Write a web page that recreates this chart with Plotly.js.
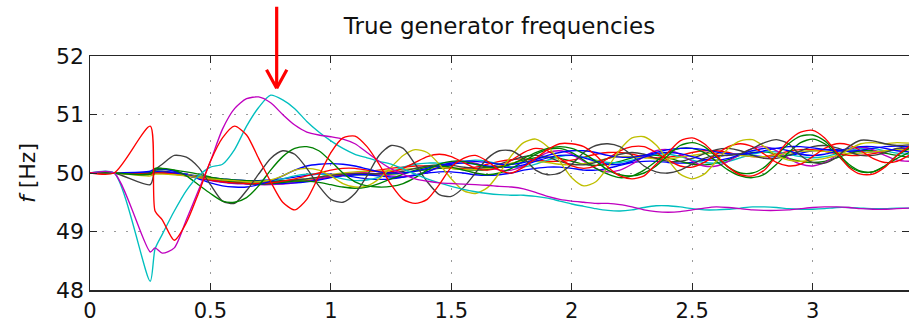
<!DOCTYPE html>
<html>
<head>
<meta charset="utf-8">
<script src="https://cdn.plot.ly/plotly-3.0.1.min.js"></script>
<style>html,body{margin:0;padding:0;background:#fff;}#chart{width:909px;height:324px;}</style>
</head>
<body>
<div id="chart"></div>
<script>
// time samples [s]
const T = [0, 0.1, 0.25, 0.27, 0.3,
  0.35, 0.4, 0.45, 0.5, 0.55, 0.6, 0.65, 0.7, 0.75, 0.8,
  0.85, 0.9, 0.95, 1.0, 1.05, 1.1, 1.15, 1.2, 1.25, 1.3,
  1.35, 1.4, 1.45, 1.5, 1.55, 1.6, 1.65, 1.7, 1.75, 1.8,
  1.85, 1.9, 1.95, 2.0, 2.05, 2.1, 2.15, 2.2, 2.25, 2.3,
  2.35, 2.4, 2.45, 2.5, 2.55, 2.6, 2.65, 2.7, 2.75, 2.8,
  2.85, 2.9, 2.95, 3.0, 3.05, 3.1, 3.15, 3.2, 3.25, 3.3,
  3.35, 3.4];

// generator frequencies [Hz]
const red1 = [50, 50, 50.8, 49.35, 49.2,
  48.85, 49.15, 49.65, 50.2, 50.6, 50.8, 50.65, 50.25, 49.85, 49.5,
  49.37, 49.55, 49.95, 50.35, 50.6, 50.63, 50.45, 50.15, 49.8, 49.55,
  49.48, 49.55, 49.8, 50.1, 50.25, 50.3, 50.2, 50.05, 50.0, 50.1,
  50.25, 50.4, 50.5, 50.5, 50.45, 50.3, 50.1, 49.95, 49.9, 49.95,
  50.15, 50.35, 50.55, 50.6, 50.5, 50.3, 50.1, 49.97, 49.95, 50.05,
  50.3, 50.55, 50.7, 50.73, 50.6, 50.35, 50.1, 49.98, 49.98, 50.1,
  50.3, 50.45];
const red2 = [50, 50, 49.98, 50.0, 50.0,
  49.98, 49.95, 49.92, 49.88, 49.85, 49.83, 49.82, 49.82, 49.83, 49.86,
  49.9, 49.95, 50.0, 50.05, 50.08, 50.08, 50.05, 50.02, 50.02, 50.08,
  50.18, 50.28, 50.32, 50.28, 50.18, 50.08, 50.05, 50.1, 50.22, 50.35,
  50.42, 50.38, 50.25, 50.12, 50.08, 50.12, 50.25, 50.38, 50.45, 50.45,
  50.35, 50.22, 50.12, 50.1, 50.18, 50.32, 50.45, 50.5, 50.45, 50.32,
  50.18, 50.12, 50.15, 50.28, 50.42, 50.5, 50.48, 50.38, 50.25, 50.18,
  50.2, 50.3];
const red3 = [50, 50, 50.0, 50.02, 50.02,
  50.0, 49.97, 49.93, 49.9, 49.87, 49.85, 49.84, 49.83, 49.83, 49.84,
  49.85, 49.87, 49.9, 49.93, 49.96, 49.99, 50.02, 50.05, 50.08, 50.1,
  50.12, 50.12, 50.1, 50.08, 50.08, 50.1, 50.15, 50.2, 50.23, 50.24,
  50.22, 50.2, 50.2, 50.22, 50.27, 50.32, 50.35, 50.35, 50.32, 50.28,
  50.26, 50.27, 50.3, 50.35, 50.38, 50.38, 50.35, 50.3, 50.28, 50.28,
  50.32, 50.37, 50.4, 50.4, 50.37, 50.33, 50.3, 50.3, 50.33, 50.37,
  50.4, 50.4];
const green1 = [50, 50, 49.98, 50.08, 50.08,
  50.05, 49.95, 49.8, 49.65, 49.52, 49.5, 49.58, 49.78, 50.05, 50.28,
  50.42, 50.45, 50.38, 50.2, 50.0, 49.85, 49.78, 49.76, 49.77, 49.82,
  49.92, 50.05, 50.15, 50.2, 50.2, 50.15, 50.1, 50.1, 50.15, 50.25,
  50.35, 50.42, 50.45, 50.42, 50.33, 50.2, 50.05, 49.97, 49.95, 50.0,
  50.12, 50.3, 50.47, 50.52, 50.45, 50.28, 50.1, 50.0, 50.0, 50.1,
  50.3, 50.5, 50.63, 50.65, 50.55, 50.35, 50.15, 50.03, 50.02, 50.12,
  50.3, 50.42];
const green2 = [50, 50, 50.0, 50.05, 50.06,
  50.05, 50.02, 49.98, 49.93, 49.88, 49.84, 49.82, 49.81, 49.82, 49.84,
  49.86, 49.86, 49.84, 49.8, 49.76, 49.74, 49.76, 49.82, 49.9, 49.98,
  50.05, 50.1, 50.12, 50.1, 50.05, 50.0, 49.97, 50.0, 50.08, 50.2,
  50.32, 50.4, 50.42, 50.35, 50.22, 50.08, 49.98, 49.92, 49.95, 50.05,
  50.2, 50.35, 50.42, 50.42, 50.35, 50.2, 50.05, 49.95, 49.92, 49.98,
  50.15, 50.35, 50.52, 50.58, 50.5, 50.32, 50.12, 50.02, 50.02, 50.12,
  50.25, 50.35];
const green3 = [50, 50, 49.99, 50.02, 50.02,
  50.0, 49.97, 49.94, 49.92, 49.9, 49.88, 49.87, 49.86, 49.86, 49.87,
  49.88, 49.9, 49.92, 49.94, 49.96, 49.97, 49.97, 49.97, 49.98, 50.0,
  50.03, 50.06, 50.08, 50.08, 50.06, 50.05, 50.06, 50.1, 50.16, 50.22,
  50.26, 50.27, 50.25, 50.2, 50.15, 50.13, 50.15, 50.2, 50.26, 50.3,
  50.3, 50.26, 50.2, 50.15, 50.14, 50.17, 50.23, 50.3, 50.35, 50.36,
  50.32, 50.25, 50.2, 50.18, 50.2, 50.26, 50.33, 50.38, 50.38, 50.34,
  50.3, 50.27];
const blue1 = [50, 50, 50.03, 50.07, 50.07,
  50.03, 49.97, 49.9, 49.83, 49.78, 49.76, 49.76, 49.8, 49.86, 49.95,
  50.05, 50.12, 50.15, 50.16, 50.15, 50.12, 50.07, 50.02, 50.0, 50.0,
  50.03, 50.08, 50.13, 50.17, 50.2, 50.2, 50.18, 50.15, 50.15, 50.18,
  50.23, 50.3, 50.35, 50.38, 50.38, 50.35, 50.3, 50.27, 50.27, 50.3,
  50.35, 50.4, 50.42, 50.42, 50.4, 50.36, 50.33, 50.32, 50.34, 50.38,
  50.42, 50.45, 50.45, 50.43, 50.4, 50.38, 50.37, 50.39, 50.42, 50.45,
  50.46, 50.45];
const blue2 = [50, 50, 50.0, 50.02, 50.02,
  50.0, 49.96, 49.92, 49.88, 49.85, 49.83, 49.82, 49.82, 49.82, 49.82,
  49.83, 49.85, 49.88, 49.92, 49.95, 49.97, 49.97, 49.95, 49.93, 49.93,
  49.96, 50.02, 50.1, 50.15, 50.17, 50.15, 50.12, 50.1, 50.1, 50.14,
  50.2, 50.26, 50.3, 50.3, 50.26, 50.2, 50.15, 50.15, 50.2, 50.27,
  50.33, 50.35, 50.33, 50.28, 50.23, 50.22, 50.25, 50.32, 50.38, 50.42,
  50.42, 50.38, 50.32, 50.3, 50.32, 50.37, 50.42, 50.45, 50.45, 50.42,
  50.38, 50.36];
const blue3 = [50, 50, 50.0, 50.03, 50.03,
  50.01, 49.98, 49.95, 49.92, 49.9, 49.88, 49.87, 49.87, 49.88, 49.9,
  49.93, 49.96, 49.98, 49.98, 49.96, 49.93, 49.9, 49.89, 49.9, 49.93,
  49.97, 50.0, 50.02, 50.02, 50.0, 49.97, 49.96, 49.97, 50.0, 50.05,
  50.08, 50.1, 50.1, 50.08, 50.05, 50.05, 50.08, 50.13, 50.18, 50.2,
  50.2, 50.18, 50.17, 50.18, 50.22, 50.27, 50.31, 50.32, 50.3, 50.28,
  50.28, 50.3, 50.34, 50.38, 50.4, 50.4, 50.38, 50.36, 50.36, 50.38,
  50.41, 50.43];
const cyan1 = [50, 50, 48.15, 48.7, 48.95,
  49.35, 49.7, 49.95, 50.1, 50.15, 50.4, 50.8, 51.12, 51.33, 51.25,
  51.1, 50.88, 50.7, 50.55, 50.42, 50.32, 50.26, 50.2, 50.15, 50.07,
  49.98, 49.9, 49.83, 49.77, 49.72, 49.68, 49.65, 49.63, 49.62, 49.62,
  49.6, 49.57, 49.52, 49.47, 49.43, 49.39, 49.36, 49.35, 49.37, 49.41,
  49.44, 49.44, 49.42, 49.39, 49.37, 49.37, 49.38, 49.4, 49.42, 49.42,
  49.41, 49.39, 49.38, 49.38, 49.39, 49.41, 49.41, 49.4, 49.39, 49.39,
  49.4, 49.4];
const cyan2 = [50, 50, 49.99, 50.01, 50.01,
  49.99, 49.96, 49.93, 49.9, 49.87, 49.85, 49.84, 49.84, 49.86, 49.9,
  49.95, 49.98, 49.98, 49.95, 49.9, 49.87, 49.88, 49.93, 50.02, 50.1,
  50.15, 50.17, 50.17, 50.18, 50.2, 50.22, 50.2, 50.15, 50.1, 50.1,
  50.15, 50.22, 50.28, 50.3, 50.27, 50.22, 50.18, 50.18, 50.22, 50.28,
  50.32, 50.32, 50.28, 50.22, 50.18, 50.17, 50.2, 50.26, 50.32, 50.36,
  50.36, 50.32, 50.28, 50.26, 50.28, 50.33, 50.38, 50.42, 50.42, 50.38,
  50.34, 50.32];
const magenta1 = [50, 50, 48.65, 48.72, 48.63,
  48.72, 49.2, 49.7, 50.2, 50.75, 51.1, 51.27, 51.3, 51.2, 51.0,
  50.82, 50.7, 50.65, 50.62, 50.58, 50.5, 50.35, 50.2, 50.07, 49.98,
  49.9, 49.86, 49.83, 49.82, 49.81, 49.8, 49.79, 49.77, 49.76, 49.73,
  49.67, 49.6, 49.55, 49.52, 49.5, 49.48, 49.48, 49.46, 49.42, 49.37,
  49.34, 49.33, 49.34, 49.37, 49.4, 49.42, 49.41, 49.39, 49.37, 49.36,
  49.36, 49.37, 49.39, 49.41, 49.42, 49.42, 49.41, 49.39, 49.38, 49.38,
  49.39, 49.4];
const magenta2 = [50, 50, 49.98, 50.0, 50.0,
  49.98, 49.95, 49.91, 49.87, 49.84, 49.82, 49.81, 49.8, 49.8, 49.81,
  49.83, 49.86, 49.9, 49.95, 49.98, 50.0, 50.0, 49.98, 49.95, 49.94,
  49.96, 50.02, 50.1, 50.18, 50.2, 50.17, 50.1, 50.05, 50.05, 50.12,
  50.25, 50.35, 50.38, 50.32, 50.2, 50.08, 50.02, 50.05, 50.15, 50.28,
  50.38, 50.4, 50.32, 50.2, 50.12, 50.12, 50.2, 50.32, 50.42, 50.45,
  50.38, 50.25, 50.15, 50.12, 50.18, 50.3, 50.4, 50.44, 50.4, 50.3,
  50.22, 50.2];
const yellow1 = [50, 50, 49.95, 49.98, 49.98,
  49.97, 49.95, 49.92, 49.9, 49.88, 49.87, 49.85, 49.85, 49.88, 49.95,
  50.05, 50.08, 50.05, 49.95, 49.82, 49.76, 49.78, 49.9, 50.1, 50.3,
  50.4, 50.35, 50.15, 49.9, 49.7, 49.65, 49.75, 50.0, 50.3, 50.52,
  50.58, 50.45, 50.2, 49.92, 49.78, 49.85, 50.1, 50.4, 50.6, 50.62,
  50.48, 50.22, 49.98, 49.9, 49.98, 50.2, 50.42, 50.55, 50.57, 50.45,
  50.3, 50.22, 50.2, 50.22, 50.25, 50.3, 50.4, 50.5, 50.52, 50.5,
  50.52, 50.51];
const yellow2 = [50, 50, 49.99, 50.01, 50.01,
  49.99, 49.97, 49.94, 49.91, 49.88, 49.86, 49.84, 49.83, 49.83, 49.84,
  49.86, 49.89, 49.93, 49.97, 50.0, 50.02, 50.03, 50.03, 50.04, 50.06,
  50.08, 50.1, 50.1, 50.08, 50.06, 50.06, 50.08, 50.12, 50.17, 50.2,
  50.2, 50.18, 50.15, 50.14, 50.16, 50.2, 50.25, 50.28, 50.28, 50.26,
  50.24, 50.24, 50.27, 50.3, 50.33, 50.34, 50.33, 50.3, 50.28, 50.28,
  50.3, 50.34, 50.37, 50.38, 50.37, 50.35, 50.33, 50.34, 50.36, 50.38,
  50.4, 50.4];
const gray1 = [50, 50, 49.8, 50.05, 50.15,
  50.3, 50.27, 50.1, 49.8, 49.52, 49.48, 49.7, 49.98, 50.25, 50.38,
  50.32, 50.08, 49.78, 49.55, 49.5, 49.65, 49.95, 50.3, 50.47, 50.42,
  50.15, 49.85, 49.63, 49.6, 49.75, 50.0, 50.25, 50.38, 50.38, 50.25,
  50.05, 49.97, 50.0, 50.15, 50.35, 50.47, 50.5, 50.45, 50.3, 50.12,
  50.02, 50.0, 50.05, 50.15, 50.25, 50.3, 50.3, 50.33, 50.42, 50.52,
  50.57, 50.5, 50.3, 50.18, 50.17, 50.27, 50.45, 50.56, 50.55, 50.5,
  50.47, 50.48];
const gray2 = [50, 50, 49.98, 50.0, 50.0,
  49.99, 49.96, 49.93, 49.9, 49.88, 49.86, 49.85, 49.85, 49.85, 49.86,
  49.88, 49.9, 49.93, 49.96, 49.98, 49.99, 49.99, 49.99, 50.0, 50.03,
  50.08, 50.12, 50.14, 50.13, 50.1, 50.08, 50.1, 50.15, 50.22, 50.28,
  50.3, 50.27, 50.2, 50.15, 50.14, 50.18, 50.25, 50.32, 50.35, 50.32,
  50.25, 50.2, 50.2, 50.25, 50.33, 50.4, 50.42, 50.38, 50.3, 50.25,
  50.25, 50.3, 50.38, 50.45, 50.47, 50.43, 50.36, 50.3, 50.3, 50.35,
  50.42, 50.46];

const seriesList = [
  [blue3, '#0000ff'], [green3, '#008000'], [red3, '#ff0000'], [cyan2, '#00bfbf'],
  [magenta2, '#bf00bf'], [yellow2, '#bfbf00'], [gray2, '#404040'],
  [blue2, '#0000ff'], [green2, '#008000'], [red2, '#ff0000'],
  [blue1, '#0000ff'], [yellow1, '#bfbf00'], [gray1, '#404040'], [green1, '#008000'],
  [cyan1, '#00bfbf'], [magenta1, '#bf00bf'], [red1, '#ff0000']
];

const xTicks = [0, 0.5, 1, 1.5, 2, 2.5, 3];
const xTickText = ['0', '0.5', '1', '1.5', '2', '2.5', '3'];
const yTicks = [48, 49, 50, 51, 52];
const yTickText = ['48', '49', '50', '51', '52'];

// arrow marker position (data units)
const ARROW_X = 0.775;
const ARROW_Y = 51.45;

const traces = seriesList.map(([vals, col]) => ({
  x: T, y: vals, type: 'scatter', mode: 'lines',
  line: {color: col, width: 1.35, shape: 'spline', smoothing: 0.7},
  hoverinfo: 'skip', showlegend: false
}));

const FONT = 'DejaVu Sans, Liberation Sans, Arial, sans-serif';

const arrowBase = {x: ARROW_X, y: ARROW_Y, xref: 'x', yref: 'y', text: '', showarrow: true,
  arrowhead: 0, arrowwidth: 3.2, arrowcolor: '#ff0000', standoff: 0, startstandoff: 0};

const layout = {
  width: 909, height: 324,
  margin: {l: 90, r: 0, t: 56, b: 34, pad: 0},
  paper_bgcolor: '#ffffff', plot_bgcolor: '#ffffff',
  showlegend: false,
  title: {text: 'True generator frequencies', x: 0.5, xref: 'paper', xanchor: 'center',
    y: 1 - 26 / 324, yref: 'container', yanchor: 'middle',
    font: {family: FONT, size: 23, color: '#111111'}},
  xaxis: {range: [0, 3.4], tickvals: xTicks, ticktext: xTickText,
    ticks: 'inside', ticklen: 7, tickwidth: 1, tickcolor: '#262626',
    showline: true, linecolor: '#262626', linewidth: 1.5, mirror: 'ticks',
    showgrid: true, gridcolor: '#9a9a9a', gridwidth: 1, griddash: '1.5px,10.5px',
    zeroline: false, tickfont: {family: FONT, size: 21, color: '#111111'},
    ticklabelstandoff: 1, automargin: false},
  yaxis: {range: [48, 52], tickvals: yTicks, ticktext: yTickText,
    ticks: 'inside', ticklen: 7, tickwidth: 1, tickcolor: '#262626',
    showline: true, linecolor: '#262626', linewidth: 1.5, mirror: 'ticks',
    showgrid: true, gridcolor: '#9a9a9a', gridwidth: 1, griddash: '1.5px,10.5px',
    zeroline: false, tickfont: {family: FONT, size: 22, color: '#111111'},
    title: {text: '<i>f</i> [Hz]', standoff: 14, font: {family: FONT, size: 22, color: '#111111'}},
    automargin: false},
  annotations: [
    Object.assign({}, arrowBase, {ax: 0, ay: -83}),
    Object.assign({}, arrowBase, {ax: -11, ay: -20}),
    Object.assign({}, arrowBase, {ax: 11, ay: -20})
  ]
};

Plotly.newPlot('chart', traces, layout, {staticPlot: true, displayModeBar: false});
</script>
</body>
</html>
